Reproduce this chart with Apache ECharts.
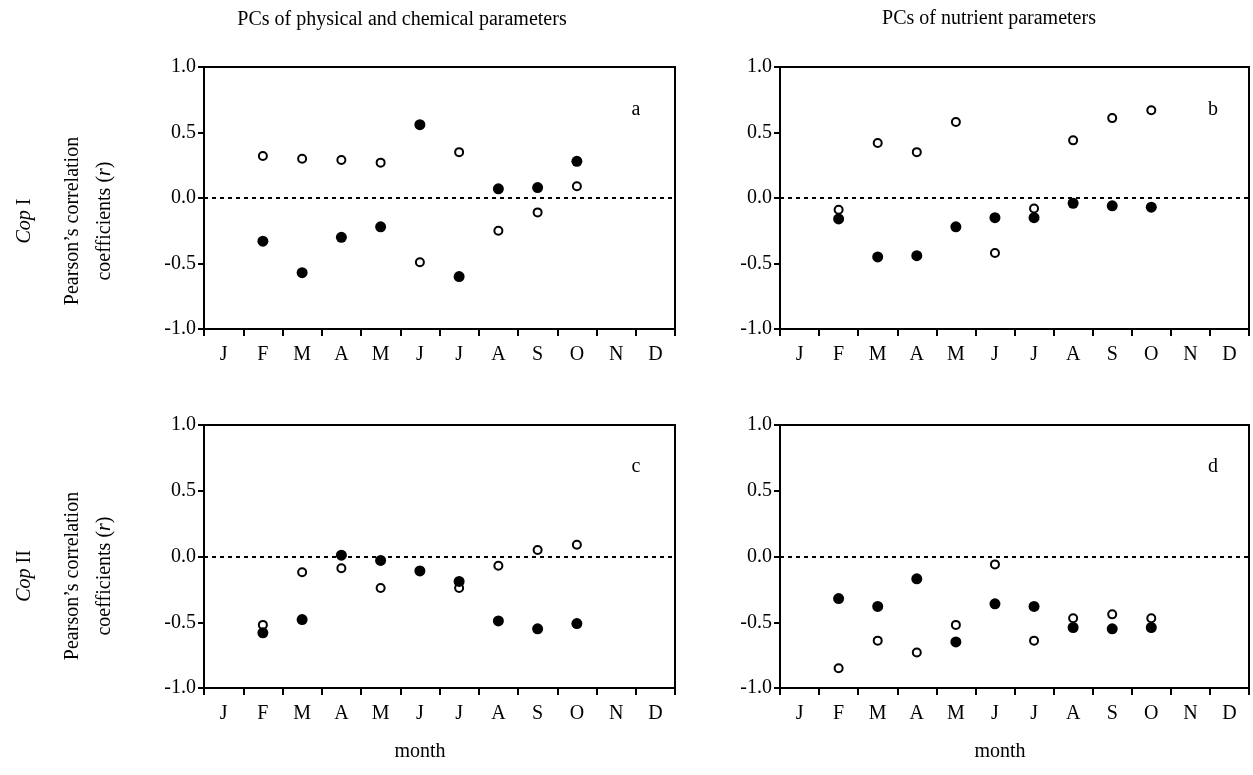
<!DOCTYPE html>
<html>
<head>
<meta charset="utf-8">
<script src="https://cdn.jsdelivr.net/npm/echarts@6/dist/echarts.min.js"></script>
<style>
  html, body { margin: 0; padding: 0; background: #fff; }
  #chart { width: 1253px; height: 775px; }
</style>
</head>
<body>
<div id="chart"></div>
<script>
// month categories
const months = ['J', 'F', 'M', 'A', 'M', 'J', 'J', 'A', 'S', 'O', 'N', 'D'];

// panel a: Cop I vs PCs of physical & chemical parameters
const aOpen   = [null, 0.32, 0.30, 0.29, 0.27, -0.49, 0.35, -0.25, -0.11, 0.09, null, null];
const aFilled = [null, -0.33, -0.57, -0.30, -0.22, 0.56, -0.60, 0.07, 0.08, 0.28, null, null];
// panel b: Cop I vs PCs of nutrient parameters
const bOpen   = [null, -0.09, 0.42, 0.35, 0.58, -0.42, -0.08, 0.44, 0.61, 0.67, null, null];
const bFilled = [null, -0.16, -0.45, -0.44, -0.22, -0.15, -0.15, -0.04, -0.06, -0.07, null, null];
// panel c: Cop II vs PCs of physical & chemical parameters
const cOpen   = [null, -0.52, -0.12, -0.09, -0.24, -0.11, -0.24, -0.07, 0.05, 0.09, null, null];
const cFilled = [null, -0.58, -0.48, 0.01, -0.03, -0.11, -0.19, -0.49, -0.55, -0.51, null, null];
// panel d: Cop II vs PCs of nutrient parameters
const dOpen   = [null, -0.85, -0.64, -0.73, -0.52, -0.06, -0.64, -0.47, -0.44, -0.47, null, null];
const dFilled = [null, -0.32, -0.38, -0.17, -0.65, -0.36, -0.38, -0.54, -0.55, -0.54, null, null];

const FONT = '"Liberation Serif", "Times New Roman", serif';
const chart = echarts.init(document.getElementById('chart'), null, { renderer: 'canvas' });

const grids = [
  { left: 204, top: 67, width: 471, height: 262 },
  { left: 780, top: 67, width: 469, height: 262 },
  { left: 204, top: 425, width: 471, height: 263 },
  { left: 780, top: 425, width: 469, height: 263 }
].map(g => Object.assign(g, { show: true, borderColor: '#000', borderWidth: 2, backgroundColor: 'transparent' }));

function xAxis(i) {
  return {
    type: 'category', gridIndex: i, data: months, boundaryGap: true,
    axisLine: { onZero: false, lineStyle: { color: '#000', width: 2 } },
    axisTick: { show: true, length: 7, inside: false, lineStyle: { color: '#000', width: 2 } },
    axisLabel: { fontFamily: FONT, fontSize: 20, color: '#000', margin: 16 },
    splitLine: { show: false }
  };
}
function yAxis(i) {
  return {
    type: 'value', gridIndex: i, min: -1, max: 1, interval: 0.5,
    axisLine: { show: true, onZero: false, lineStyle: { color: '#000', width: 2 } },
    axisTick: { show: true, length: 6, lineStyle: { color: '#000', width: 2 } },
    axisLabel: { fontFamily: FONT, fontSize: 20, color: '#000', margin: 8, formatter: v => v.toFixed(1) },
    splitLine: { show: false }
  };
}

function pts(arr) {
  const out = [];
  arr.forEach((v, i) => { if (v !== null) out.push([i, v]); });
  return out;
}

const panels = [[aOpen, aFilled], [bOpen, bFilled], [cOpen, cFilled], [dOpen, dFilled]];
const series = [];
panels.forEach((p, i) => {
  series.push({
    type: 'scatter', xAxisIndex: i, yAxisIndex: i, data: pts(p[0]),
    symbol: 'circle', symbolSize: 8,
    itemStyle: { color: '#fff', borderColor: '#000', borderWidth: 2, opacity: 1 },
    markLine: {
      silent: true, symbol: 'none', label: { show: false },
      lineStyle: { color: '#000', type: [4, 4], width: 2 },
      data: [{ yAxis: 0 }]
    },
    z: 2
  });
  series.push({
    type: 'scatter', xAxisIndex: i, yAxisIndex: i, data: pts(p[1]),
    symbol: 'circle', symbolSize: 11,
    itemStyle: { color: '#000', opacity: 1 },
    z: 3
  });
});

const txt = (x, y, text, extra) => ({
  type: 'text', x: x, y: y,
  style: Object.assign({ text: text, fontFamily: FONT, fontSize: 20, fill: '#000', align: 'center', verticalAlign: 'middle' }, extra || {})
});
const rich = { i: { fontFamily: FONT, fontSize: 20, fontStyle: 'italic', fill: '#000' } };
const rot = (x, y, text) => Object.assign(txt(x, y, text, { rich: rich }), { rotation: Math.PI / 2 });

const graphic = [
  txt(402, 20, 'PCs of physical and chemical parameters'),
  txt(989, 19, 'PCs of nutrient parameters'),
  txt(636, 110, 'a'), txt(1213, 110, 'b'),
  txt(636, 467, 'c'), txt(1213, 467, 'd'),
  txt(420, 752, 'month'), txt(1000, 752, 'month'),
  rot(25, 221, '{i|Cop} I'),
  rot(73, 221, 'Pearson\u2019s correlation'),
  rot(105, 221, 'coefficients ({i|r})'),
  rot(25, 576, '{i|Cop} II'),
  rot(73, 576, 'Pearson\u2019s correlation'),
  rot(105, 576, 'coefficients ({i|r})')
];

chart.setOption({
  backgroundColor: '#fff',
  animation: false,
  grid: grids,
  xAxis: [xAxis(0), xAxis(1), xAxis(2), xAxis(3)],
  yAxis: [yAxis(0), yAxis(1), yAxis(2), yAxis(3)],
  series: series,
  graphic: graphic
});
</script>
</body>
</html>
